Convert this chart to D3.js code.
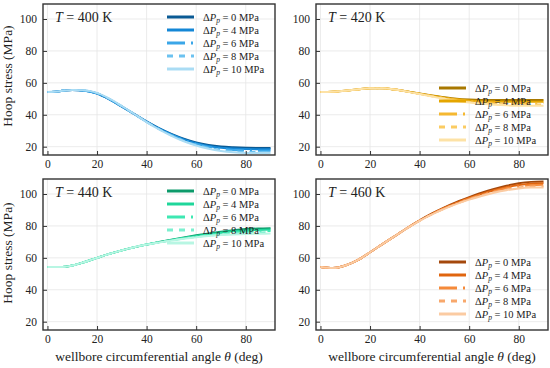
<!DOCTYPE html>
<html>
<head>
<meta charset="utf-8">
<script src="https://cdn.jsdelivr.net/npm/d3@7"></script>
<style>
  body { margin: 0; background: #fff; }
  svg text { font-family: "Liberation Serif", "DejaVu Serif", serif; fill: #222; }
</style>
</head>
<body>
<div id="chart"></div>
<script>
// angle grid (deg)
const angles = [0, 5, 10, 15, 20, 25, 30, 35, 40, 45, 50, 55, 60, 65, 70, 75, 80, 85, 90];
const pressures = [0, 4, 6, 8, 10];
const temps = [400, 420, 440, 460];

// hoop stress (MPa), one array per pressure difference
const stress400 = [
  [54.2, 54.8, 55.6, 55.0, 53.3, 49.6, 45.1, 40.5, 35.8, 31.6, 28.0, 25.0, 22.7, 21.1, 20.1, 19.6, 19.3, 19.2, 19.2],
  [54.2, 54.8, 55.6, 55.0, 53.3, 49.6, 45.1, 40.4, 35.7, 31.4, 27.7, 24.6, 22.2, 20.5, 19.4, 18.8, 18.5, 18.4, 18.4],
  [54.2, 54.8, 55.6, 55.1, 53.4, 49.7, 45.2, 40.4, 35.6, 31.2, 27.4, 24.2, 21.7, 19.9, 18.7, 18.0, 17.6, 17.5, 17.5],
  [54.2, 54.8, 55.6, 55.2, 53.5, 49.9, 45.3, 40.4, 35.5, 31.0, 27.1, 23.8, 21.2, 19.3, 18.0, 17.2, 16.8, 16.7, 16.7],
  [54.2, 54.8, 55.6, 55.3, 53.7, 50.1, 45.5, 40.5, 35.4, 30.8, 26.8, 23.4, 20.7, 18.7, 17.3, 16.5, 16.1, 16.0, 16.0]
];
const stress420 = [
  [54.2, 54.4, 55.0, 55.9, 56.6, 56.6, 55.8, 54.6, 53.3, 52.1, 51.0, 50.1, 49.6, 49.3, 49.2, 49.2, 49.2, 49.3, 49.3],
  [54.2, 54.4, 55.0, 55.9, 56.6, 56.6, 55.8, 54.6, 53.2, 51.9, 50.7, 49.7, 49.0, 48.5, 48.3, 48.2, 48.2, 48.2, 48.2],
  [54.2, 54.4, 55.0, 55.9, 56.6, 56.6, 55.8, 54.5, 53.1, 51.8, 50.5, 49.4, 48.6, 48.0, 47.6, 47.4, 47.3, 47.3, 47.3],
  [54.2, 54.4, 55.0, 55.9, 56.6, 56.6, 55.8, 54.5, 53.1, 51.6, 50.3, 49.1, 48.1, 47.4, 46.9, 46.6, 46.5, 46.4, 46.4],
  [54.2, 54.4, 55.0, 55.9, 56.6, 56.6, 55.8, 54.5, 53.0, 51.5, 50.0, 48.7, 47.7, 46.9, 46.3, 45.9, 45.7, 45.6, 45.6]
];
const stress440 = [
  [54.3, 54.2, 55.2, 57.4, 60.0, 62.5, 64.7, 66.6, 68.3, 69.9, 71.4, 72.8, 74.1, 75.3, 76.4, 77.3, 78.0, 78.4, 78.6],
  [54.3, 54.2, 55.2, 57.4, 60.0, 62.5, 64.7, 66.6, 68.3, 69.8, 71.2, 72.5, 73.7, 74.8, 75.8, 76.6, 77.2, 77.5, 77.7],
  [54.3, 54.2, 55.2, 57.4, 60.0, 62.5, 64.7, 66.6, 68.3, 69.7, 71.1, 72.3, 73.4, 74.4, 75.2, 75.9, 76.4, 76.7, 76.8],
  [54.3, 54.2, 55.2, 57.4, 60.0, 62.5, 64.7, 66.6, 68.3, 69.7, 70.9, 72.1, 73.1, 74.0, 74.7, 75.3, 75.7, 75.9, 76.0],
  [54.3, 54.2, 55.2, 57.4, 60.0, 62.5, 64.7, 66.6, 68.3, 69.6, 70.8, 71.9, 72.9, 73.7, 74.3, 74.7, 75.0, 75.1, 75.2]
];
const stress460 = [
  [54.2, 53.6, 55.2, 58.6, 63.5, 68.6, 73.6, 78.7, 83.5, 87.8, 91.6, 95.0, 98.0, 100.8, 103.2, 105.2, 106.7, 107.6, 107.9],
  [54.2, 53.6, 55.2, 58.6, 63.5, 68.6, 73.6, 78.7, 83.4, 87.6, 91.3, 94.6, 97.5, 100.1, 102.4, 104.2, 105.6, 106.4, 106.7],
  [54.2, 53.6, 55.2, 58.6, 63.5, 68.6, 73.6, 78.7, 83.3, 87.5, 91.1, 94.3, 97.1, 99.6, 101.8, 103.6, 104.8, 105.5, 105.8],
  [54.2, 53.6, 55.2, 58.6, 63.5, 68.6, 73.6, 78.6, 83.3, 87.3, 90.9, 94.0, 96.8, 99.2, 101.3, 102.9, 104.1, 104.7, 104.9],
  [54.2, 53.6, 55.2, 58.6, 63.5, 68.6, 73.6, 78.6, 83.2, 87.2, 90.7, 93.8, 96.5, 98.8, 100.8, 102.4, 103.5, 104.0, 104.1]
];
const allStress = [stress400, stress420, stress440, stress460];

const xTicks = [0, 20, 40, 60, 80];
const yTicks = [20, 40, 60, 80, 100];

const palettes = [
  ["#0a5a94", "#1487d6", "#3aa6e8", "#6cc2f0", "#aadcf4"],
  ["#a87800", "#e5a600", "#f5b830", "#fbcc62", "#fde2a6"],
  ["#0c9a6a", "#1fd69a", "#3ee8b2", "#7cf0cf", "#b8f6e3"],
  ["#a4480c", "#e0650f", "#f58a3a", "#f8a86c", "#fbcba2"]
];
const dashes = [null, null, "18,6,2,6", "6,6", null];
const serif = "'Liberation Serif', 'DejaVu Serif', serif";

const svg = d3.select("#chart").append("svg")
  .attr("width", 550).attr("height", 368)
  .attr("font-family", serif);

const pw = 232, ph = 151;
const origins = [[43, 4], [316, 4], [43, 179], [316, 179]];
const legendPos = [[167, 17], [439, 88], [167, 191], [439, 262]];

const x = d3.scaleLinear().domain([-1.8, 91.8]).range([0, pw]);
const y = d3.scaleLinear().domain([14.8, 109.4]).range([ph, 0]);

const line = d3.line()
  .x((d, i) => x(angles[i]))
  .y(d => y(d))
  .curve(d3.curveMonotoneX);

temps.forEach((T, k) => {
  const [ox, oy] = origins[k];
  const g = svg.append("g").attr("transform", `translate(${ox},${oy})`);

  // grid
  g.append("g").selectAll("line").data(xTicks).join("line")
    .attr("x1", d => x(d)).attr("x2", d => x(d))
    .attr("y1", 0).attr("y2", ph)
    .attr("stroke", "#e6e6e6").attr("stroke-width", 0.8);
  g.append("g").selectAll("line").data(yTicks).join("line")
    .attr("x1", 0).attr("x2", pw)
    .attr("y1", d => y(d)).attr("y2", d => y(d))
    .attr("stroke", "#e6e6e6").attr("stroke-width", 0.8);

  // curves
  const clipId = "clip" + k;
  g.append("clipPath").attr("id", clipId)
    .append("rect").attr("width", pw).attr("height", ph);
  g.append("g").attr("clip-path", `url(#${clipId})`)
    .selectAll("path").data(allStress[k]).join("path")
      .attr("d", line)
      .attr("fill", "none")
      .attr("stroke", (d, i) => palettes[k][i])
      .attr("stroke-width", 2)
      .attr("stroke-dasharray", (d, i) => dashes[i]);

  // axes, ticks inward
  const xa = g.append("g").attr("transform", `translate(0,${ph})`)
    .call(d3.axisBottom(x).tickValues(xTicks).tickSize(-4).tickPadding(5));
  const ya = g.append("g")
    .call(d3.axisLeft(y).tickValues(yTicks).tickSize(-4).tickPadding(6));
  [xa, ya].forEach(a => {
    a.attr("font-family", serif);
    a.select(".domain").remove();
    a.selectAll("line").attr("stroke", "#333");
    a.selectAll("text").attr("font-size", 11.5).attr("fill", "#222");
  });

  g.append("rect").attr("width", pw).attr("height", ph)
    .attr("fill", "none").attr("stroke", "#333").attr("stroke-width", 1.4);

  // title
  const t = g.append("text").attr("x", 12).attr("y", 18).attr("font-size", 14);
  t.append("tspan").attr("font-style", "italic").text("T");
  t.append("tspan").text(" = " + T + " K");

  // legend
  const [lx, ly] = legendPos[k];
  pressures.forEach((p, i) => {
    const yy = ly + i * 13 - oy;
    g.append("line")
      .attr("x1", lx - ox).attr("x2", lx - ox + 27)
      .attr("y1", yy).attr("y2", yy)
      .attr("stroke", palettes[k][i]).attr("stroke-width", 3)
      .attr("stroke-dasharray", dashes[i]);
    const tx = g.append("text").attr("x", lx - ox + 36).attr("y", yy + 3.5)
      .attr("font-size", 10.5);
    tx.append("tspan").text("Δ");
    tx.append("tspan").attr("font-style", "italic").text("P");
    tx.append("tspan").attr("font-style", "italic").attr("font-size", 7.5)
      .attr("dy", 2.5).text("p");
    tx.append("tspan").attr("dy", -2.5).text(" = " + p + " MPa");
  });
});

// axis labels
[[12, 76], [12, 253]].forEach(([cx, cy]) => {
  svg.append("text")
    .attr("transform", `translate(${cx},${cy}) rotate(-90)`)
    .attr("text-anchor", "middle").attr("font-size", 13.5)
    .text("Hoop stress (MPa)");
});
[[159, 361], [432, 361]].forEach(([cx, cy]) => {
  const t = svg.append("text").attr("x", cx).attr("y", cy)
    .attr("text-anchor", "middle").attr("font-size", 13.5);
  t.append("tspan").text("wellbore circumferential angle ");
  t.append("tspan").attr("font-style", "italic").text("θ");
  t.append("tspan").text(" (deg)");
});
</script>
</body>
</html>
